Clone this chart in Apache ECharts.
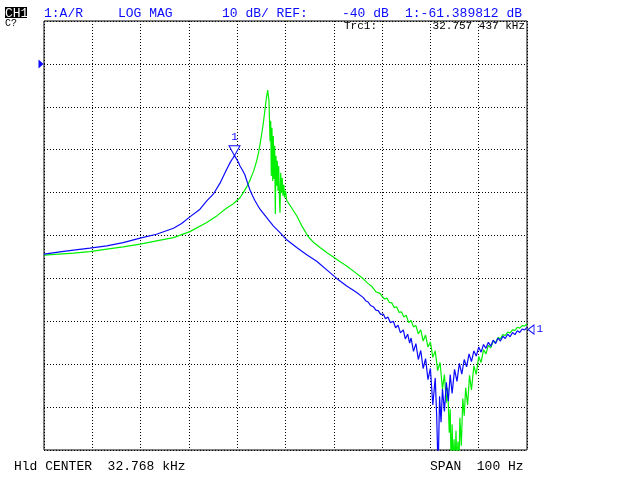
<!DOCTYPE html>
<html>
<head>
<meta charset="utf-8">
<script src="https://cdn.jsdelivr.net/npm/echarts@6/dist/echarts.min.js"></script>
<style>
  html, body { margin: 0; padding: 0; background: #fff; }
  #main { width: 640px; height: 480px; }
</style>
</head>
<body>
<div id="main"></div>
<script>
// frequency offset from center (Hz), 32.768 kHz +/- 50 Hz, level in dB
var blueHz = [-50, -46.7, -43.9, -40.5, -37.0, -33.6, -30.1, -26.7, -23.2, -21.5, -19.8, -17.7, -16.3, -14.95, -13.56,
    -12.17, -11.39, -10.9, -10.56, -10.2, -9.8, -9.42, -8.9, -8.39, -7.85, -7.35, -6.8, -6.31, -5.8, -5.28, -3.89,
    -2.53, -1.14, 0.25, 2.32, 4.39, 6.46, 9.21, 10.6, 12.67, 14.74, 16.11, 16.6, 17.1, 17.6, 18.18, 18.7, 19.2, 19.7,
    20.25, 20.7, 21.2, 21.7, 22.32, 22.8, 23.3, 23.8, 24.39, 24.8, 25.3, 25.7, 26.0, 26.5, 27.0, 27.5, 28.0, 28.5,
    29.0, 29.5, 30.0, 30.5, 31.0, 31.3, 31.6, 31.9, 32.2, 32.5, 32.9, 33.3, 33.7, 34.1, 34.5, 35.0, 35.5, 36.0,
    36.5, 37.0, 37.5, 38.0, 38.5, 39.0, 39.5, 40.0, 40.5, 41.0, 41.5, 42.0, 42.5, 43.0, 43.5, 44.0, 44.5, 45.0,
    45.5, 46.0, 46.5, 47.0, 47.5, 48.0, 48.5, 49.0, 49.5, 50.0];
var blueDb = [-84.36, -83.82, -83.43, -82.96, -82.42, -81.66, -80.63, -79.7, -78.3, -77.2, -75.66, -73.87, -71.93, -70.37, -67.8,
    -64.55, -62.84, -62.0, -61.39, -61.8, -62.8, -63.8, -64.8, -65.9, -67.8, -69.4, -70.8, -71.9, -72.9, -73.87, -75.83,
    -77.76, -79.32, -81.0, -82.82, -84.5, -86.0, -88.65, -90.0, -91.75, -93.31, -94.48, -95.2, -95.5, -96.3, -96.6, -97.4, -97.5, -98.4,
    -98.3, -99.4, -99.0, -100.3, -100.0, -101.5, -100.9, -102.7, -102.0, -104.1, -103.0, -105.1, -103.9, -107.0, -105.2, -108.9, -106.8, -111.0,
    -108.7, -113.6, -111.0, -119.5, -113.2, -122.0, -135, -117.5, -123.5, -115.8, -121.0, -114.2, -118.6, -112.4, -116.8, -111.2, -114.0, -109.8,
    -112.3, -108.9, -110.6, -107.6, -109.4, -106.9, -108.1, -106.0, -107.2, -105.4, -106.3, -104.9, -105.8, -104.4, -105.2, -103.9, -104.6, -103.5,
    -104.0, -103.0, -103.6, -102.6, -103.1, -102.2, -102.6, -101.8, -102.0, -101.4];

var greenHz = [-50, -43.9, -40.5, -37.0, -33.6, -30.1, -26.7, -23.2, -19.8, -16.3, -14.24, -12.17, -10.8, -9.42, -8.74, -8.0,
    -7.35, -6.6, -5.96, -5.6, -5.28, -4.94, -4.6, -4.24, -3.95, -3.69, -3.55, -3.42, -3.2, -3.06, -2.94, -2.8, -2.65,
    -2.53, -2.38, -2.24, -2.11, -1.97, -1.82, -1.7, -1.55, -1.41, -1.24, -1.14, -0.99, -0.83, -0.68, -0.52, -0.35, -0.19,
    0, 0.25, 0.6, 1.35, 2.32, 3.5, 4.72, 5.9, 7.14, 8.6, 10.04, 11.4, 12.67, 14.4, 16.11, 17.0, 17.9, 18.7, 19.57,
    20.0, 20.5, 21.0, 21.5, 22.0, 22.5, 23.0, 23.5, 24.0, 24.5, 25.0, 25.5, 26.0, 26.5, 27.0, 27.5, 28.0, 28.5,
    29.0, 29.5, 30.0, 30.5, 31.0, 31.5, 32.0, 32.5, 32.9, 33.3, 33.6, 33.9, 34.1, 34.3, 34.5, 34.7, 34.9, 35.1,
    35.3, 35.5, 35.7, 35.9, 36.1, 36.4, 36.7, 37.0, 37.3, 37.7, 38.1, 38.5, 39.0, 39.5, 40.0, 40.5, 41.0, 41.5,
    42.0, 42.5, 43.0, 43.5, 44.0, 44.5, 45.0, 45.5, 46.0, 46.5, 47.0, 47.5, 48.0, 48.5, 49.0, 49.5, 50.0];
var greenDb = [-84.59, -84.13, -83.75, -83.19, -82.66, -82.03, -81.26, -80.49, -79.09, -76.99, -75.43, -73.6, -72.6, -71.2, -70.0, -68.6,
    -67.1, -65.0, -62.6, -60.8, -58.8, -56.4, -53.9, -50.6, -47.9, -46.1, -46.5, -48.6, -58.0, -53.3, -66.1, -54.9, -67.3,
    -56.8, -66.8, -59.1, -75.0, -61.4, -68.4, -62.6, -69.6, -63.8, -71.9, -74.7, -65.4, -70.1, -66.6, -70.8, -68.2, -71.2,
    -69.6, -71.9, -72.4, -73.7, -75.4, -78.0, -80.3, -81.7, -82.8, -84.0, -85.15, -86.2, -87.1, -88.6, -90.1, -91.1, -91.9, -93.1, -93.5,
    -94.2, -94.8, -94.6, -95.6, -95.7, -96.8, -96.6, -97.9, -97.8, -99.0, -98.6, -100.3, -99.8, -101.3, -101.0, -102.9, -102.0, -104.6,
    -103.2, -106.0, -104.8, -108.4, -106.9, -111.5, -109.6, -115.8, -112.4, -119.0, -115.5, -126.0, -120.5, -135, -124.0, -135, -127.5, -135,
    -125.5, -135, -128.0, -135, -122.5, -129.0, -118.0, -122.0, -115.5, -119.5, -112.6, -116.0, -110.4, -112.4, -108.2, -109.6, -106.6, -107.6,
    -105.6, -106.2, -104.6, -105.0, -103.8, -104.1, -103.1, -103.3, -102.5, -102.7, -102.0, -102.1, -101.4, -101.6, -101.0, -101.1, -100.6, -100.6];

// marker 1 and reference level
var markerHz = -10.56;     // 32.757437 kHz
var markerDb = -61.39;
var refDb = -40;
var traceEndDb = -101.9;

var BLUE = '#0a0aff';
var GREEN = '#00f000';
var MONO = '"Liberation Mono", "DejaVu Sans Mono", monospace';

function zip(xs, ys) {
    var out = [];
    for (var i = 0; i < xs.length; i++) out.push([xs[i], ys[i]]);
    return out;
}

function txt(x, y, s, color, size, align) {
    return {
        type: 'text', x: x, y: y, silent: true,
        style: { text: s, fill: color, font: size + 'px ' + MONO, align: align || 'left', verticalAlign: 'bottom' }
    };
}

var myChart = echarts.init(document.getElementById('main'));

var grid_line = { show: true, lineStyle: { color: '#000', width: 1, type: [1, 2] } };

myChart.setOption({
    animation: false,
    backgroundColor: '#fff',
    grid: {
        left: 44, right: 113, top: 21, bottom: 30,
        show: true, borderColor: '#000', borderWidth: 1, backgroundColor: 'transparent'
    },
    xAxis: {
        type: 'value', min: -50, max: 50, interval: 10,
        axisLine: { show: false }, axisTick: { show: false }, axisLabel: { show: false },
        splitLine: grid_line
    },
    yAxis: {
        type: 'value', min: -130, max: -30, interval: 10,
        axisLine: { show: false }, axisTick: { show: false }, axisLabel: { show: false },
        splitLine: grid_line
    },
    series: [{
        type: 'line',
        data: zip(greenHz, greenDb),
        showSymbol: false,
        lineStyle: { color: GREEN, width: 1.2 },
        itemStyle: { color: GREEN },
        z: 2
    }, {
        type: 'line',
        data: zip(blueHz, blueDb),
        showSymbol: false,
        lineStyle: { color: BLUE, width: 1.2 },
        itemStyle: { color: BLUE },
        z: 3,
        markPoint: {
            silent: true,
            data: [{
                coord: [markerHz, markerDb],
                symbol: 'triangle', symbolRotate: 180, symbolSize: [11, 10], symbolOffset: [0, -5],
                itemStyle: { color: '#fff', borderColor: BLUE, borderWidth: 1 },
                label: { show: true, formatter: '1', position: 'top', distance: 3, color: BLUE, fontSize: 11, fontFamily: MONO }
            }, {
                coord: [50, traceEndDb],
                symbol: 'triangle', symbolRotate: 90, symbolSize: [9, 6], symbolOffset: [4, 0],
                itemStyle: { color: '#fff', borderColor: BLUE, borderWidth: 1 },
                label: { show: true, formatter: '1', position: 'right', distance: 2, color: BLUE, fontSize: 11, fontFamily: MONO }
            }, {
                coord: [-50, refDb],
                symbol: 'triangle', symbolRotate: -90, symbolSize: [9, 5], symbolOffset: [-3, 0],
                itemStyle: { color: BLUE, borderWidth: 0 },
                label: { show: false }
            }]
        }
    }],
    graphic: [
        { type: 'rect', shape: { x: 5, y: 7, width: 22, height: 11 }, style: { fill: '#000' }, silent: true },
        txt(5, 20, 'CH1', '#fff', 13),
        txt(5, 28, 'C?', '#000', 10),
        txt(44, 20, '1:A/R', BLUE, 13),
        txt(118, 20, 'LOG MAG', BLUE, 13),
        txt(222, 20, '10 dB/ REF:', BLUE, 13),
        txt(342, 20, '-40 dB', BLUE, 13),
        txt(405, 20, '1:-61.389812 dB', BLUE, 13),
        txt(344, 32, 'Trc1:', '#000', 11),
        txt(525, 32, '32.757 437 kHz', '#000', 11, 'right'),
        txt(14, 473, 'Hld CENTER  32.768 kHz', '#000', 13),
        txt(430, 473, 'SPAN  100 Hz', '#000', 13)
    ]
});
</script>
</body>
</html>
